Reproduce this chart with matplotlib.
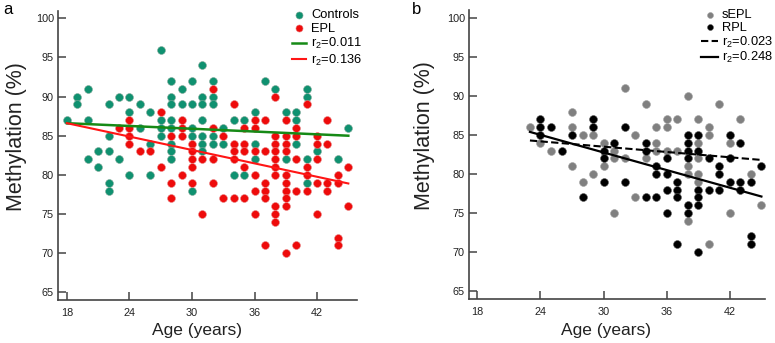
import numpy as np
import matplotlib
matplotlib.use("Agg")
import matplotlib.pyplot as plt

plt.rcParams['font.family'] = ['Liberation Sans', 'DejaVu Sans']
plt.rcParams['mathtext.fontset'] = 'custom'
plt.rcParams['mathtext.rm'] = 'Liberation Sans'

# panel a: methylation values at each age
controls = {18: [87], 19: [90, 89], 20: [91, 87, 82], 21: [83, 81],
            22: [89, 85, 83, 79, 78], 23: [90, 82], 24: [90, 88, 80],
            25: [89, 86], 26: [88, 84, 80], 27: [96, 87, 86, 85],
            28: [92, 90, 89, 87, 86, 84, 83, 82], 29: [91, 89],
            30: [92, 89, 86, 85, 78], 31: [94, 90, 89, 87, 85, 84, 83],
            32: [92, 90, 89, 85, 84], 33: [86, 84], 34: [87, 80], 35: [87, 80],
            36: [88, 84, 82], 37: [92], 38: [91], 39: [88, 82],
            40: [88, 87, 84], 41: [91, 90, 82, 79], 42: [83], 44: [82], 45: [86]}
epl = {23: [86], 24: [87, 86, 85, 84], 25: [83], 26: [83], 27: [88, 81],
       28: [85, 79, 77], 29: [87, 86, 85, 80], 30: [84, 83, 82, 81, 79],
       31: [82, 75], 32: [91, 86, 82, 79], 33: [85, 77],
       34: [89, 84, 83, 82, 77], 35: [86, 84, 83, 81, 77],
       36: [87, 86, 83, 80, 78, 75], 37: [87, 83, 79, 78, 77, 71],
       38: [90, 85, 84, 83, 82, 81, 80, 76, 75, 74],
       39: [87, 85, 84, 83, 80, 79, 78, 77, 76, 70],
       40: [86, 85, 82, 78, 71], 41: [89, 81, 80, 78], 42: [85, 84, 82, 79, 75],
       43: [87, 84, 79, 78], 44: [80, 79, 72, 71], 45: [81, 76]}

# panel b
sepl = {23: [86], 24: [84], 25: [83], 27: [88, 86, 81], 28: [85, 79],
        29: [85, 80], 30: [84, 81], 31: [83, 82, 75], 32: [91, 82],
        33: [85, 77], 34: [89, 82], 35: [86, 84, 83], 36: [87, 86, 83],
        37: [87, 83], 38: [90, 81, 80, 74], 39: [87, 84, 82, 80, 79],
        40: [86, 85, 71], 41: [89], 42: [84, 75], 43: [87], 44: [80], 45: [76]}
rpl = {24: [87, 86, 85], 25: [86], 26: [83], 27: [85], 28: [77], 29: [87, 86],
       30: [83, 82, 79], 31: [84], 32: [86, 79], 34: [84, 83, 77],
       35: [81, 80, 77], 36: [82, 80, 78, 75], 37: [79, 78, 77, 71],
       38: [85, 84, 83, 82, 76, 75], 39: [85, 83, 78, 77, 76, 70],
       40: [82, 78], 41: [81, 80, 78], 42: [85, 82, 79], 43: [84, 79, 78],
       44: [79, 72, 71], 45: [81]}

# regression lines, end points
fit_x_a = [18, 45]
ctrl_fit = [86.6, 85.0]
epl_fit = [86.6, 78.9]
fit_x_b = [23, 45]
sepl_fit = [84.3, 81.8]
rpl_fit = [85.4, 77.1]

r2_labels_a = ['0.011', '0.136']
r2_labels_b = ['0.023', '0.248']

xticks = [18, 24, 30, 36, 42]
yticks = [65, 70, 75, 80, 85, 90, 95, 100]


def flat(d):
    xs, ys = [], []
    for age, vals in d.items():
        xs += [age] * len(vals)
        ys += vals
    return np.array(xs), np.array(ys)


def style(ax, xlim, ylim):
    ax.set_xlim(*xlim)
    ax.set_ylim(*ylim)
    for s in ['top', 'right']:
        ax.spines[s].set_visible(False)
    for s in ['left', 'bottom']:
        ax.spines[s].set_color('#444444')
        ax.spines[s].set_linewidth(1.2)
    ax.set_xticks(xticks)
    ax.set_yticks(yticks)
    ax.tick_params(direction='in', length=6, width=1.1, color='#444444',
                   labelsize=7.8, labelcolor='#222222')
    ax.tick_params(axis='x', pad=6)
    ax.tick_params(axis='y', pad=3)
    ax.set_xlabel('Age (years)', fontsize=12.5, color='#222222')
    ax.set_ylabel('Methylation (%)', fontsize=15.5, color='#222222')


fig = plt.figure(figsize=(7.75, 3.43), dpi=100)
ax1 = fig.add_axes([0.0748, 0.1254, 0.3858, 0.8426])
ax2 = fig.add_axes([0.6052, 0.1283, 0.3820, 0.8426])

sub = r'r$\mathregular{_2}$='

x, y = flat(controls)
ax1.scatter(x, y, s=32, color='#0f9170', edgecolor='#7fa898', linewidth=0.4,
            label='Controls', zorder=3)
x, y = flat(epl)
ax1.scatter(x, y, s=32, color='#ee0b0b', edgecolor='#e88080', linewidth=0.4,
            label='EPL', zorder=3)
ax1.plot(fit_x_a, ctrl_fit, color='#168a16', lw=1.8, label=sub + r2_labels_a[0], zorder=4)
ax1.plot(fit_x_a, epl_fit, color='#ff1515', lw=1.5, label=sub + r2_labels_a[1], zorder=4)
style(ax1, (17.14, 45.83), (64.02, 100.93))
ax1.yaxis.set_label_coords(-0.104, 0.564)
ax1.xaxis.set_label_coords(0.465, -0.08)
ax1.legend(loc='upper left', bbox_to_anchor=(0.365, 1.0), bbox_transform=fig.transFigure,
           frameon=False, fontsize=9.3, handlelength=1.1, handletextpad=0.4,
           labelspacing=0.12, borderpad=0.2, markerscale=0.9)

x, y = flat(sepl)
ax2.scatter(x, y, s=32, color='#808080', edgecolor='#a0a0a0', linewidth=0.4,
            label='sEPL', zorder=3)
x, y = flat(rpl)
ax2.scatter(x, y, s=32, color='#000000', edgecolor='#555555', linewidth=0.4,
            label='RPL', zorder=3)
ax2.plot(fit_x_b, sepl_fit, color='#000000', lw=1.5, ls=(0, (3.5, 1.6)),
         label=sub + r2_labels_b[0], zorder=4)
ax2.plot(fit_x_b, rpl_fit, color='#000000', lw=1.6, label=sub + r2_labels_b[1], zorder=4)
style(ax2, (17.21, 45.35), (63.93, 101.07))
ax2.yaxis.set_label_coords(-0.115, 0.564)
ax2.xaxis.set_label_coords(0.463, -0.083)
ax2.legend(loc='upper left', bbox_to_anchor=(0.893, 1.0), bbox_transform=fig.transFigure,
           frameon=False, fontsize=9.3, handlelength=1.3, handletextpad=0.3,
           labelspacing=0.05, borderpad=0.2, markerscale=0.75)

fig.text(0.004, 0.995, 'a', fontsize=12, va='top', ha='left')
fig.text(0.531, 0.995, 'b', fontsize=12, va='top', ha='left')

fig.savefig('out.png', dpi=100)
